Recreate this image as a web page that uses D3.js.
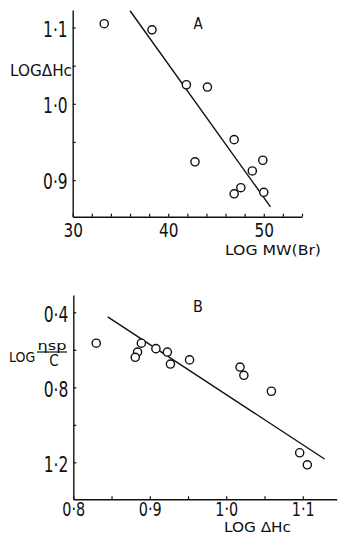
<!DOCTYPE html>
<html>
<head>
<meta charset="utf-8">
<script src="https://cdn.jsdelivr.net/npm/d3@7"></script>
<style>
  html, body { margin: 0; padding: 0; background: #fff; }
  svg { display: block; }
  text { font-family: "DejaVu Sans Condensed", "DejaVu Sans", sans-serif; fill: #111; }
</style>
</head>
<body>
<svg id="chart" width="338" height="535"></svg>
<script>
// Panel A: log heat of combustion vs log molecular weight
const aMW  = [33.3, 38.3, 41.9, 44.1, 46.9, 42.8, 49.9, 48.8, 47.6, 46.9, 50.0];
const aDHc = [1.105, 1.097, 1.025, 1.022, 0.953, 0.924, 0.926, 0.912, 0.890, 0.882, 0.884];
const aFitX = [36.0, 50.7];
const aFitY = [1.122, 0.865];
const aXTicks = [30, 32, 34, 36, 38, 40, 42, 44, 46, 48, 50, 52, 54];
const aXLabels = ["30", "40", "50"];
const aYTicks = [0.90, 0.95, 1.00, 1.05, 1.10];
const aYLabels = ["0·9", "1·0", "1·1"];

// Panel B: log reduced viscosity vs log heat of combustion
const bDHc = [0.830, 0.889, 0.884, 0.881, 0.908, 0.923, 0.927, 0.952, 1.018, 1.023, 1.059, 1.096, 1.106];
const bEta = [0.565, 0.565, 0.612, 0.640, 0.594, 0.612, 0.676, 0.654, 0.692, 0.736, 0.821, 1.149, 1.213];
const bFitX = [0.845, 1.1285];
const bFitY = [0.425, 1.182];
const bXTicks = [0.80, 0.85, 0.90, 0.95, 1.00, 1.05, 1.10];
const bXLabels = ["0·8", "0·9", "1·0", "1·1"];
const bYTicks = [0.4, 0.6, 0.8, 1.0, 1.2];
const bYLabels = ["0·4", "0·8", "1·2"];

const svg = d3.select("#chart");
const ink = "#111";

function labelMap(ticks, labels, step) {
  // every `step`-th tick gets a label, the rest stay blank
  const m = new Map();
  ticks.filter((t, i) => i % step === 0).forEach((t, i) => m.set(+t.toFixed(3), labels[i]));
  return v => m.get(+v.toFixed(3)) || "";
}

function styleAxis(g, size, squeeze) {
  g.select(".domain").attr("stroke", ink).attr("stroke-width", 1.4);
  g.selectAll(".tick line").attr("stroke", ink).attr("stroke-width", 1.2);
  g.selectAll(".tick text").attr("fill", ink).style("font-size", size + "px")
    .each(function () {
      if (!this.textContent) return;
      const w = this.getComputedTextLength();
      d3.select(this).attr("textLength", w * squeeze).attr("lengthAdjust", "spacingAndGlyphs");
    });
}

function dots(g, xs, ys, x, y) {
  g.selectAll("circle").data(xs).join("circle")
    .attr("cx", (d) => x(d))
    .attr("cy", (d, i) => y(ys[i]))
    .attr("r", 4.1)
    .attr("fill", "#fff")
    .attr("stroke", ink)
    .attr("stroke-width", 1.4);
}

function fitLine(g, fx, fy, x, y) {
  g.append("line")
    .attr("x1", x(fx[0])).attr("y1", y(fy[0]))
    .attr("x2", x(fx[1])).attr("y2", y(fy[1]))
    .attr("stroke", ink).attr("stroke-width", 1.4);
}

// ---------- Panel A ----------
const xA = d3.scaleLinear().domain([30, 54]).range([72.7, 302]);
const yA = d3.scaleLinear().domain([0.852, 1.123]).range([216.7, 10]);
const gA = svg.append("g");

gA.append("g").attr("transform", "translate(0,216.7)")
  .call(d3.axisBottom(xA).tickValues(aXTicks).tickSize(-3).tickSizeOuter(0).tickPadding(6)
    .tickFormat(labelMap(aXTicks, aXLabels, 5)))
  .call(g => styleAxis(g, 20, 0.85));

gA.append("g").attr("transform", "translate(72.7,0)")
  .call(d3.axisLeft(yA).tickValues(aYTicks).tickSize(-3).tickSizeOuter(0).tickPadding(5)
    .tickFormat(labelMap(aYTicks, aYLabels, 2)))
  .call(g => styleAxis(g, 21, 0.82))
  .selectAll(".tick text").attr("dy", "0.42em");

fitLine(gA, aFitX, aFitY, xA, yA);
dots(gA, aMW, aDHc, xA, yA);

gA.append("text").attr("x", 198).attr("y", 29).attr("text-anchor", "middle")
  .style("font-size", "15px").text("A");
gA.append("text").attr("x", 10).attr("y", 76).attr("textLength", 62).attr("lengthAdjust", "spacingAndGlyphs")
  .style("font-size", "15px").text("LOGΔHc");
gA.append("text").attr("x", 225).attr("y", 255).attr("textLength", 96).attr("lengthAdjust", "spacingAndGlyphs")
  .style("font-size", "14px").text("LOG MW(Br)");

// ---------- Panel B ----------
const xB = d3.scaleLinear().domain([0.8, 1.1444]).range([73.3, 336.7]);
const yB = d3.scaleLinear().domain([0.308, 1.397]).range([295, 499.3]);
const gB = svg.append("g");

gB.append("g").attr("transform", "translate(0,499.3)")
  .call(d3.axisBottom(xB).tickValues(bXTicks).tickSize(-3).tickSizeOuter(0).tickPadding(2)
    .tickFormat(labelMap(bXTicks, bXLabels, 2)))
  .call(g => styleAxis(g, 20, 0.8));

gB.append("g").attr("transform", "translate(73.3,0)")
  .call(d3.axisLeft(yB).tickValues(bYTicks).tickSize(-3).tickSizeOuter(0).tickPadding(5)
    .tickFormat(labelMap(bYTicks, bYLabels, 2)))
  .call(g => styleAxis(g, 21, 0.82))
  .selectAll(".tick text").attr("dy", "0.42em");

fitLine(gB, bFitX, bFitY, xB, yB);
dots(gB, bDHc, bEta, xB, yB);

gB.append("text").attr("x", 198).attr("y", 312).attr("text-anchor", "middle")
  .style("font-size", "16px").text("B");
gB.append("text").attr("x", 9).attr("y", 362)
  .style("font-size", "14px").text("LOG");
gB.append("text").attr("x", 52).attr("y", 350).attr("text-anchor", "middle")
  .attr("textLength", 29).attr("lengthAdjust", "spacingAndGlyphs")
  .style("font-size", "13px").text("ηsp");
gB.append("line").attr("x1", 37).attr("x2", 67).attr("y1", 352).attr("y2", 352)
  .attr("stroke", ink).attr("stroke-width", 1.2);
gB.append("text").attr("x", 54).attr("y", 366).attr("text-anchor", "middle")
  .style("font-size", "15px").text("C");
gB.append("text").attr("x", 224).attr("y", 532).attr("textLength", 67).attr("lengthAdjust", "spacingAndGlyphs")
  .style("font-size", "14px").text("LOG ΔHc");
</script>
</body>
</html>
